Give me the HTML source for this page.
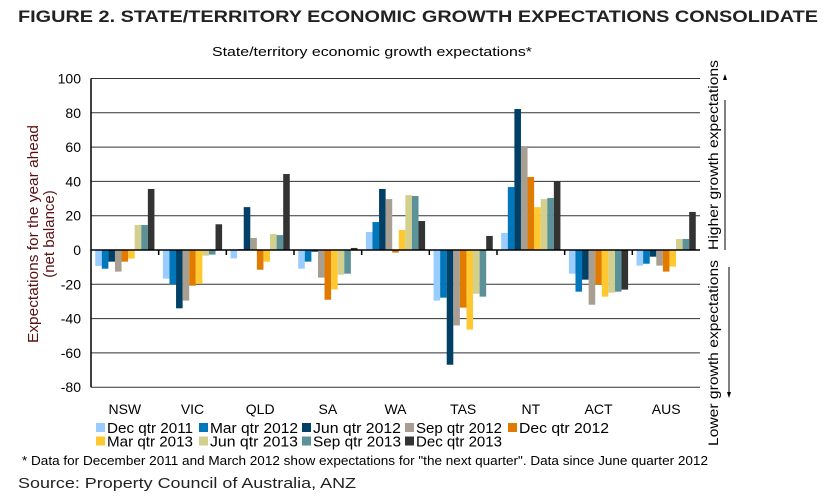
<!DOCTYPE html>
<html><head><meta charset="utf-8"><style>
html,body{margin:0;padding:0;background:#fff;}
svg{display:block;font-family:"Liberation Sans","DejaVu Sans",sans-serif;}
</style></head><body>
<svg id="chart" width="827" height="497" viewBox="0 0 827 497">
<text x="18" y="22" font-size="17" font-weight="bold" textLength="800" lengthAdjust="spacingAndGlyphs" fill="#222">FIGURE 2. STATE/TERRITORY ECONOMIC GROWTH EXPECTATIONS CONSOLIDATE</text>
<text x="372" y="56" font-size="13" text-anchor="middle" textLength="320" lengthAdjust="spacingAndGlyphs" fill="#000">State/territory economic growth expectations*</text>
<g id="grid"></g>
<g id="bars"></g>
<g id="axes"></g>
<text transform="translate(38,234) rotate(-90)" font-size="15" text-anchor="middle" fill="#5a1010"><tspan x="0" dy="0" textLength="218" lengthAdjust="spacingAndGlyphs">Expectations for the year ahead</tspan><tspan x="0" dy="16">(net balance)</tspan></text>
<text transform="translate(718,250) rotate(-90)" font-size="14" fill="#000" textLength="190" lengthAdjust="spacingAndGlyphs">Higher growth expectations</text>
<text transform="translate(718,446) rotate(-90)" font-size="14" fill="#000" textLength="186" lengthAdjust="spacingAndGlyphs">Lower growth expectations</text>
<line x1="725" y1="250" x2="725" y2="100" stroke="#000" stroke-width="1"/>
<polygon points="725,74 723,80 727,80" fill="#000"/>
<line x1="729" y1="267" x2="729" y2="392" stroke="#000" stroke-width="1"/>
<polygon points="729,398 727,392 731,392" fill="#000"/>
<g id="legend"></g>
<text x="22" y="465" font-size="12.5" textLength="686" lengthAdjust="spacingAndGlyphs" fill="#000">* Data for December 2011 and March 2012 show expectations for "the next quarter". Data since June quarter 2012</text>
<text x="18" y="488" font-size="15" textLength="338" lengthAdjust="spacingAndGlyphs" fill="#222">Source: Property Council of Australia, ANZ</text>
</svg>
<script>
const categories = ["NSW","VIC","QLD","SA","WA","TAS","NT","ACT","AUS"];
const seriesNames = ["Dec qtr 2011","Mar qtr 2012","Jun qtr 2012","Sep qtr 2012","Dec qtr 2012","Mar qtr 2013","Jun qtr 2013","Sep qtr 2013","Dec qtr 2013"];
const seriesColors = ["#99ccff","#0077bb","#003f66","#a89f92","#e07b00","#ffc830","#d3cf8f","#5b9198","#333333"];
const dec11 = [-9.3,-16.7,-4.9,-10.9,10.5,-29.5,9.9,-13.8,-9.1];
const mar12 = [-10.9,-20,0.5,-6.8,16.3,-27.8,36.7,-24.3,-8];
const jun12 = [-6.8,-34,25,-1,35.6,-66.9,82.2,-17.3,-3.9];
const sep12 = [-12.6,-29.5,7,-16.1,29.7,-44,60.6,-31.9,-9.1];
const dec12 = [-6.8,-20.8,-11.5,-29,-1.5,-33.6,42.6,-20.2,-12.6];
const mar13 = [-5,-19.7,-6.8,-23,11.7,-46.4,25,-27.2,-9.7];
const jun13 = [14.6,-3.3,9.3,-14.4,32,-25.5,29.7,-24.9,6.4];
const sep13 = [14.6,-2.7,8.7,-13.8,31.5,-27.2,30.3,-24.3,6.4];
const dec13 = [35.6,15,44.3,1.2,16.9,8.2,40,-23.1,22.2];
const yTicks = [100,80,60,40,20,0,-20,-40,-60,-80];
const series = [dec11,mar12,jun12,sep12,dec12,mar13,jun13,sep13,dec13];

const NS="http://www.w3.org/2000/svg";
const X0=91, X1=700, Y100=78.5, PX=1.715;
function yScale(v){return Y100+(100-v)*PX;}
const bandW=(X1-X0)/categories.length;
function xBand(i){return X0+i*bandW;}
function mk(tag,attrs,parent){const e=document.createElementNS(NS,tag);for(const k in attrs)e.setAttribute(k,attrs[k]);parent.appendChild(e);return e;}
const grid=document.getElementById('grid'), bars=document.getElementById('bars'), axes=document.getElementById('axes'), legend=document.getElementById('legend');

yTicks.forEach(t=>{
  const y=yScale(t);
  if(t!==0){const l=mk('line',{x1:X0,x2:X1,y1:y,y2:y,stroke:'#333','stroke-width':1},grid);
  
  }
  const tx=mk('text',{x:X0-10,y:y+5,'font-size':14,'text-anchor':'end',fill:'#000'},axes);
  tx.textContent=t;
  
  
});
const bw=7.4, pad=(bandW-bw*8)/2;
categories.forEach((c,i)=>{
  const n=series.length, w=(bandW-2*pad)/n;
  series.forEach((s,j)=>{
    const v=s[i], y0=yScale(0), y=yScale(v);
    const r=mk('rect',{x:xBand(i)+pad+j*w,y:Math.min(y,y0),width:w,height:Math.max(0.5,Math.abs(y-y0)),fill:seriesColors[j]},bars);
    
    
  });
  const tx=mk('text',{x:xBand(i)+bandW/2,y:414,'font-size':14,'text-anchor':'middle',fill:'#000'},axes);
  tx.textContent=c;
  
  
  if(i>0){const tk=mk('line',{x1:xBand(i),x2:xBand(i),y1:yScale(0),y2:yScale(0)+5,stroke:'#000','stroke-width':1.5},axes);
  
  }
});
const zl=mk('line',{x1:X0,x2:X1,y1:yScale(0),y2:yScale(0),stroke:'#000','stroke-width':1.5},axes);


const ya=mk('line',{x1:X0,x2:X0,y1:Y100,y2:yScale(-80),stroke:'#000','stroke-width':1.5},axes);



const lx=[96,199,302,405,508];
seriesNames.forEach((nm,j)=>{
  const col=j%5,row=Math.floor(j/5);
  const x=lx[col], y=428+row*13.5;
  const g=mk('g',{},legend);
  
  
  mk('rect',{x:x,y:y-5,width:9,height:9,fill:seriesColors[j]},g);
  const t=mk('text',{x:x+11,y:y+5,'font-size':14.5,fill:'#000',textLength:(col===1||col===2?88:(col===4?90:86)),lengthAdjust:'spacingAndGlyphs'},g);
  t.textContent=nm;
});
</script>
</body></html>
